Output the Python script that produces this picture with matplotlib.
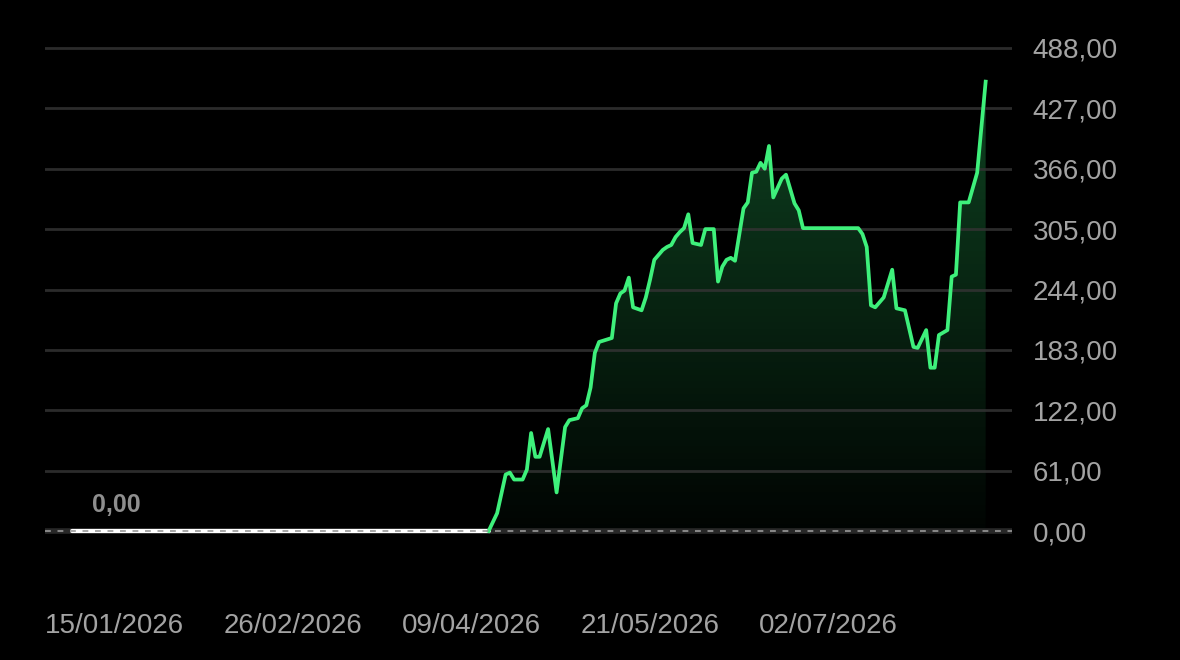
import matplotlib
matplotlib.use("Agg")
import matplotlib.pyplot as plt
import matplotlib.dates as mdates
import numpy as np
import pandas as pd

# flat part (no position yet)
flat_start = "2026-01-05"

# equity curve after the first position
dates = ["2026-04-13", "2026-04-15", "2026-04-17", "2026-04-18", "2026-04-19", "2026-04-21",
         "2026-04-22", "2026-04-23", "2026-04-24", "2026-04-25", "2026-04-27", "2026-04-29",
         "2026-05-01", "2026-05-02", "2026-05-04", "2026-05-05", "2026-05-06", "2026-05-07",
         "2026-05-08", "2026-05-09", "2026-05-12", "2026-05-13", "2026-05-14", "2026-05-15",
         "2026-05-16", "2026-05-17", "2026-05-19", "2026-05-20", "2026-05-21", "2026-05-22",
         "2026-05-24", "2026-05-25", "2026-05-26", "2026-05-27", "2026-05-28", "2026-05-29",
         "2026-05-30", "2026-05-31", "2026-06-02", "2026-06-03", "2026-06-05", "2026-06-06",
         "2026-06-07", "2026-06-08", "2026-06-09", "2026-06-10", "2026-06-12", "2026-06-13",
         "2026-06-14", "2026-06-15", "2026-06-16", "2026-06-17", "2026-06-18", "2026-06-19",
         "2026-06-21", "2026-06-22", "2026-06-24", "2026-06-25", "2026-06-26", "2026-07-09",
         "2026-07-10", "2026-07-11", "2026-07-12", "2026-07-13", "2026-07-15", "2026-07-17",
         "2026-07-18", "2026-07-20", "2026-07-22", "2026-07-23", "2026-07-25", "2026-07-26",
         "2026-07-27", "2026-07-28", "2026-07-30", "2026-07-31", "2026-08-01", "2026-08-02",
         "2026-08-04", "2026-08-06", "2026-08-08"]
values = [0, 18, 57, 59, 52, 52, 62, 99, 75, 75, 103, 39,
          105, 112, 114, 124, 127, 145, 180, 191, 195, 230, 240, 243,
          256, 226, 223, 236, 254, 274, 284, 287, 289, 297, 302, 306,
          320, 291, 289, 305, 305, 252, 267, 274, 276, 273, 326, 332,
          362, 363, 372, 366, 389, 337, 356, 360, 331, 324, 306, 306,
          300, 287, 228, 226, 236, 264, 225, 223, 186, 185, 203, 165,
          165, 198, 203, 257, 259, 332, 332, 362, 454]

y_ticks = [0, 61, 122, 183, 244, 305, 366, 427, 488]
x_ticks = ["2026-01-15", "2026-02-26", "2026-04-09", "2026-05-21", "2026-07-02"]

green = "#3ef07b"
bg = "black"

x = mdates.date2num(pd.to_datetime(dates))
y = np.array(values, dtype=float)
x_flat = mdates.date2num(pd.to_datetime([flat_start, dates[0]]))

fig = plt.figure(figsize=(11.8, 6.6), dpi=100, facecolor=bg)
ax = fig.add_axes([45 / 1180, 0.18045, 967 / 1180, 0.76182])
ax.set_facecolor(bg)

# gradient fill under the curve
poly = ax.fill_between(x, y, 0, color="none", lw=0)
grad = np.linspace(0, 1, 256)
rgba = np.zeros((256, 1, 4))
rgba[:, 0, 0] = 0.2
rgba[:, 0, 1] = 0.9
rgba[:, 0, 2] = 0.45
rgba[:, 0, 3] = 0.02 + 0.27 * grad
im = ax.imshow(rgba, extent=[x[0], x[-1], 0, y.max()], origin="lower",
               aspect="auto", zorder=1, interpolation="bilinear")
im.set_clip_path(poly.get_paths()[0], transform=ax.transData)

# grid
for t in y_ticks[1:]:
    ax.axhline(t, color="#333333", lw=2.0, alpha=0.85, zorder=1.5)
ax.axhline(0, color="#282828", lw=4.0, zorder=1.5)

# flat white part, then the curve
ax.plot(x_flat, [0, 0], color="white", lw=3.0, zorder=2, solid_capstyle="round")
ax.plot(x, y, color=green, lw=2.7, zorder=3, solid_joinstyle="round")
ax.axhline(0, color="#9a9a9a", lw=1.2, dashes=(3.5, 4), zorder=4)

ax.annotate("0,00", xy=(x_flat[0], 0), xytext=(32, 19), textcoords="offset points",
            ha="center", va="center", fontsize=18, fontweight="bold",
            color="#8e8e8e", family="Liberation Sans")

start = mdates.date2num(pd.Timestamp("2026-01-15"))
ax.set_xlim(start - 16.43, start + 211.2)
ax.set_ylim(-10, 498)

ax.set_yticks(y_ticks)
ax.set_yticklabels([f"{v:.2f}".replace(".", ",") for v in y_ticks])
ax.yaxis.tick_right()
ax.set_xticks(mdates.date2num(pd.to_datetime(x_ticks)))
ax.xaxis.set_major_formatter(mdates.DateFormatter("%d/%m/%Y"))
ax.tick_params(axis="y", length=0, pad=15, labelsize=20, labelcolor="#a3a3a3")
ax.tick_params(axis="x", length=0, pad=52, labelsize=20, labelcolor="#a3a3a3")
for lab in ax.get_xticklabels() + ax.get_yticklabels():
    lab.set_family("Liberation Sans")
for s in ax.spines.values():
    s.set_visible(False)

fig.savefig("out.png", dpi=100, facecolor=bg)
